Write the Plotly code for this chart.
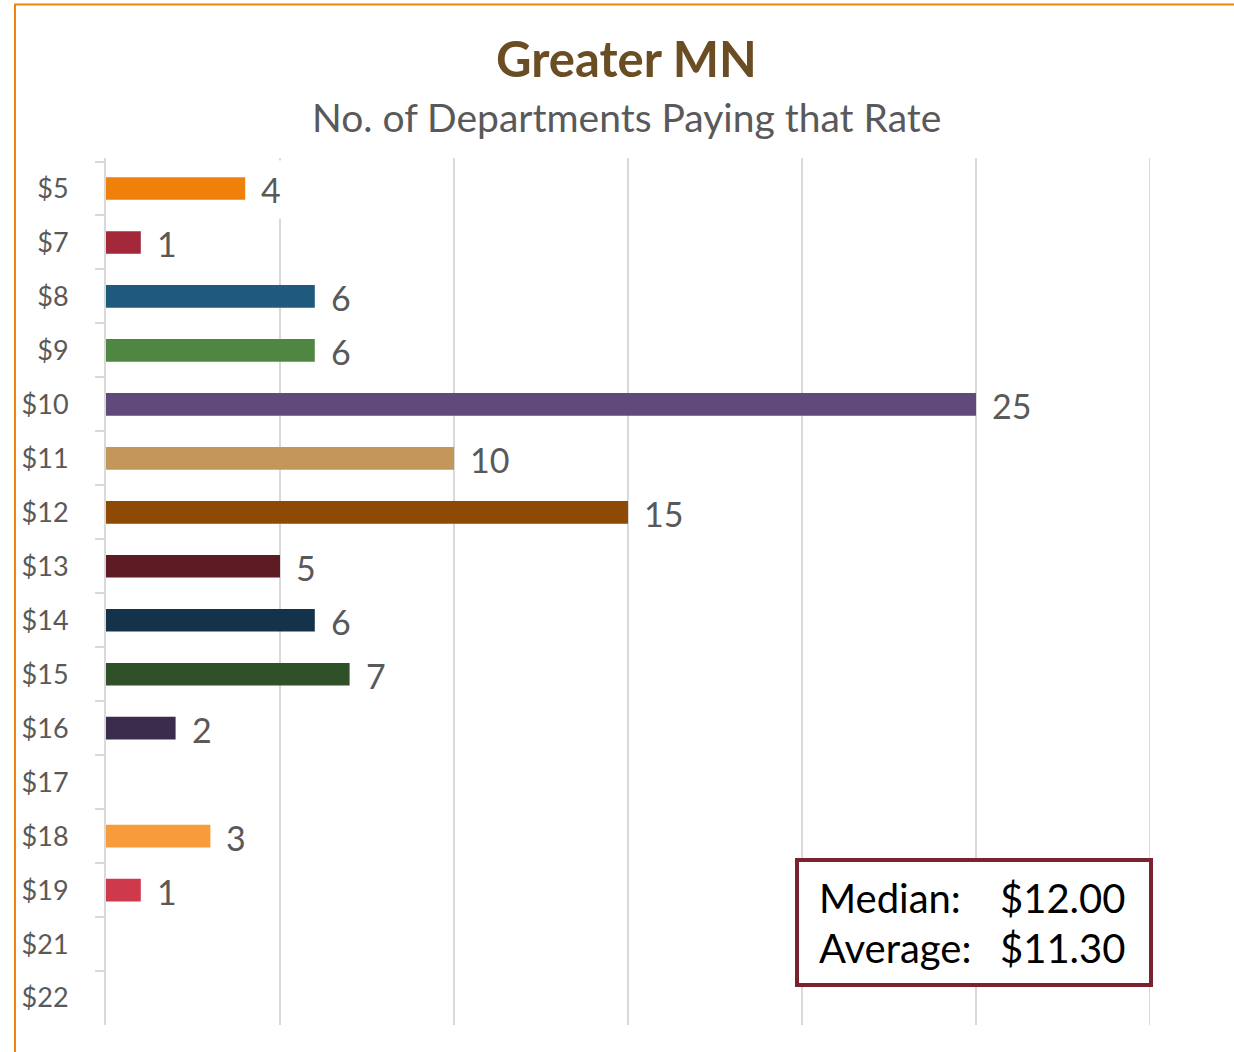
import plotly.graph_objects as go

# ---- data ----
rates = ["$5", "$7", "$8", "$9", "$10", "$11", "$12", "$13", "$14", "$15",
         "$16", "$17", "$18", "$19", "$21", "$22"]
departments = [4, 1, 6, 6, 25, 10, 15, 5, 6, 7, 2, 0, 3, 1, 0, 0]
bar_colors = ["#F0800A", "#A3283A", "#1F5A7C", "#4F8742", "#604A7B", "#C3975A",
              "#8E4A05", "#5E1B24", "#14334B", "#305029", "#3B2C4E", "#7F7F7F",
              "#F79B3B", "#CE3A4C", "#999999", "#999999"]
x_max = 30
title_text = "Greater MN"
subtitle_text = "No. of Departments Paying that Rate"
stat_labels = ["Median:", "Average:"]
stat_values = ["$12.00", "$11.30"]

FONT = "Lato"
W, H = 1234, 1052
L, R, T, B = 106, 1150, 158, 1025  # plot area in screen px


def px_x(px):
    return (px - L) / (R - L)


def px_y(py):
    return (B - py) / (B - T)


fig = go.Figure()
fig.add_trace(go.Bar(
    x=departments, y=rates, orientation="h",
    marker=dict(color=bar_colors, line=dict(width=0)),
    width=0.42, hoverinfo="x+y", showlegend=False,
))

annotations = []
for r, v in zip(rates, departments):
    if v > 0:
        annotations.append(dict(
            x=v, y=r, xref="x", yref="y", text=str(v), showarrow=False,
            xanchor="left", yanchor="middle", xshift=7, yshift=-1,
            bgcolor="white", borderpad=8,
            font=dict(family=FONT, size=34, color="#595959"),
        ))

# title and subtitle
annotations.append(dict(
    x=px_x(626), y=px_y(58), xref="paper", yref="paper", text="<b>" + title_text + "</b>",
    showarrow=False, xanchor="center", yanchor="middle",
    font=dict(family=FONT, size=49, color="#6B4D24"),
))
annotations.append(dict(
    x=px_x(626), y=px_y(117), xref="paper", yref="paper", text=subtitle_text,
    showarrow=False, xanchor="center", yanchor="middle",
    font=dict(family=FONT, size=39, color="#595959"),
))

# stats box text
row_y = [898, 948]
for lab, val, yy in zip(stat_labels, stat_values, row_y):
    annotations.append(dict(
        x=px_x(817), y=px_y(yy), xref="paper", yref="paper", text=lab,
        showarrow=False, xanchor="left", yanchor="middle",
        font=dict(family=FONT, size=40, color="#000000"),
    ))
    annotations.append(dict(
        x=px_x(1127), y=px_y(yy), xref="paper", yref="paper", text=val,
        showarrow=False, xanchor="right", yanchor="middle",
        font=dict(family=FONT, size=40, color="#000000"),
    ))

shapes = [
    # last vertical gridline at the axis maximum
    dict(type="line", xref="x", yref="paper", x0=x_max, x1=x_max, y0=0, y1=1,
         line=dict(color="#D9D9D9", width=2), layer="below"),
    # stats box
    dict(type="rect", xref="paper", yref="paper",
         x0=px_x(797), x1=px_x(1151), y0=px_y(985), y1=px_y(860),
         line=dict(color="#7B2230", width=4), fillcolor="white", layer="above"),
    # orange outer frame
    dict(type="rect", xref="paper", yref="paper",
         x0=px_x(15), x1=px_x(1270), y0=px_y(1080), y1=px_y(4.5),
         line=dict(color="#F0820F", width=2), fillcolor="rgba(0,0,0,0)", layer="below"),
]

fig.update_layout(
    width=W, height=H,
    margin=dict(l=L, r=W - R, t=T, b=H - B, pad=0),
    paper_bgcolor="white", plot_bgcolor="white",
    font=dict(family=FONT, color="#595959"),
    annotations=annotations, shapes=shapes,
)
fig.update_xaxes(
    range=[0, x_max], dtick=5, tick0=0, showgrid=True, gridcolor="#D9D9D9", gridwidth=2,
    showticklabels=False, zeroline=False, showline=False, ticks="", fixedrange=True,
)
fig.update_yaxes(
    type="category", categoryorder="array", categoryarray=rates, autorange="reversed",
    showgrid=False, showline=True, linecolor="#D9D9D9", linewidth=2,
    ticks="outside", tickson="boundaries", ticklen=9, tickcolor="#D9D9D9", tickwidth=2,
    ticklabelstandoff=30,
    tickfont=dict(family=FONT, size=27, color="#595959"), fixedrange=True,
)

fig.write_html(
    "out.html",
    config={"displayModeBar": False},
    post_script="document.body.style.margin='0';document.body.style.overflow='hidden';",
)
